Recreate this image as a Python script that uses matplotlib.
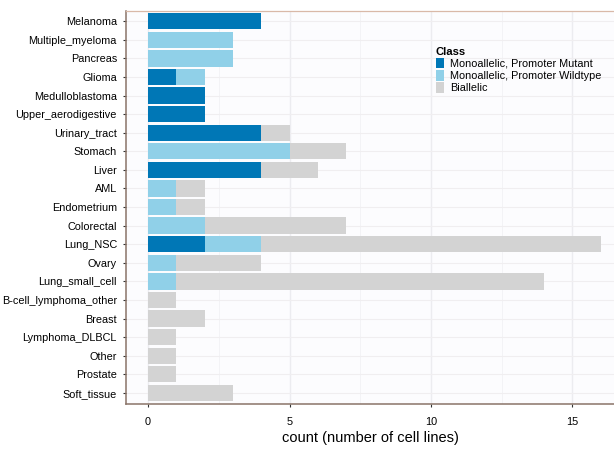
import matplotlib.pyplot as plt
import numpy as np
from matplotlib.patches import Patch
from matplotlib import font_manager

CATEGORIES = ["Melanoma", "Multiple_myeloma", "Pancreas", "Glioma", "Medulloblastoma",
              "Upper_aerodigestive", "Urinary_tract", "Stomach", "Liver", "AML",
              "Endometrium", "Colorectal", "Lung_NSC", "Ovary", "Lung_small_cell",
              "B-cell_lymphoma_other", "Breast", "Lymphoma_DLBCL", "Other", "Prostate",
              "Soft_tissue"]
MUTANT   = [4, 0, 0, 1, 2, 2, 4, 0, 4, 0, 0, 0, 2, 0, 0, 0, 0, 0, 0, 0, 0]
WILDTYPE = [0, 3, 3, 1, 0, 0, 0, 5, 0, 1, 1, 2, 2, 1, 1, 0, 0, 0, 0, 0, 0]
BIALLELIC = [0, 0, 0, 0, 0, 0, 1, 2, 2, 1, 1, 5, 12, 3, 13, 1, 2, 1, 1, 1, 3]
CLASSES = ["Monoallelic, Promoter Mutant", "Monoallelic, Promoter Wildtype", "Biallelic"]
COLORS = ("#0077b6", "#90d0e8", "#d3d3d3")

names = {f.name for f in font_manager.fontManager.ttflist}
narrow = "Liberation Sans Narrow" in names
plt.rcParams["font.family"] = (["Liberation Sans Narrow"] if narrow else []) + ["Liberation Sans", "DejaVu Sans"]
lab_size = 9 if narrow else 7.8

fig = plt.figure(figsize=(6.14, 4.51), dpi=100)
ax = fig.add_axes([0.2052, 0.1042, 0.7948, 0.8714])
ax.set_facecolor("#fcfcfe")

y = np.arange(len(CATEGORIES))
left = np.zeros(len(CATEGORIES))
for vals, color, name in zip((MUTANT, WILDTYPE, BIALLELIC), COLORS, CLASSES):
    vals = np.array(vals, dtype=float)
    ax.barh(y, vals, left=left, height=0.88, color=color, label=name, zorder=2)
    left += vals

ax.set_yticks(y)
ax.set_yticklabels(CATEGORIES, fontsize=lab_size)
ax.set_ylim(len(CATEGORIES) - 0.4, -0.55)
ax.set_xlim(-0.78, 16.47)
ax.set_xticks([0, 5, 10, 15])
ax.tick_params(axis="x", labelsize=lab_size, length=2.5, pad=7, color="#333333")
ax.tick_params(axis="y", length=2.5, pad=4, color="#333333")

ax.set_xticks([2.5, 7.5, 12.5], minor=True)
ax.tick_params(axis="x", which="minor", length=0)
ax.grid(axis="x", which="major", color="#ececf0", linewidth=1.0, zorder=0)
ax.grid(axis="x", which="minor", color="#f3f3f6", linewidth=0.7, zorder=0)
ax.grid(axis="y", color="#f0eef0", linewidth=0.8, zorder=0)
ax.set_axisbelow(True)

for side in ("left", "bottom"):
    ax.spines[side].set_color("#8a7468")
    ax.spines[side].set_linewidth(1.1)
ax.spines["top"].set_color("#d9b9a8")
ax.spines["top"].set_linewidth(0.9)
ax.spines["right"].set_visible(False)

ax.set_xlabel("count (number of cell lines)", fontsize=10.5, labelpad=3)

handles = [Patch(facecolor=c, edgecolor="none") for c in COLORS]
leg = ax.legend(handles, CLASSES, title="Class", loc="upper left",
                bbox_to_anchor=(0.626, 0.92), frameon=False, fontsize=lab_size,
                title_fontsize=lab_size + 0.3, handlelength=0.8, handleheight=1.1,
                handletextpad=0.55, labelspacing=0.12, borderaxespad=0)
leg.get_title().set_fontweight("bold")
leg._legend_box.align = "left"

fig.savefig("out.png", dpi=100)
